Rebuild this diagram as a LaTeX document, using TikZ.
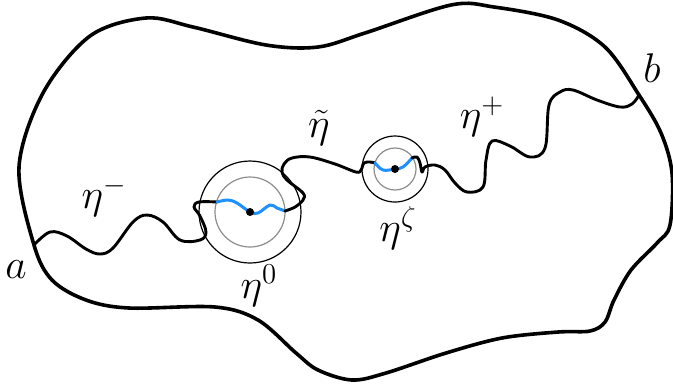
\documentclass[tikz,border=0pt]{standalone}
\usepackage{tikz}
\usepackage{amsmath,amssymb}
\definecolor{Arc}{HTML}{1E90FF}
\definecolor{Disc}{HTML}{8C8C8C}
\definecolor{Ink}{HTML}{000000}

\begin{document}
\begin{tikzpicture}[x=0.5pt,y=-0.5pt]
  \tikzset{lab/.style={font=\huge,Ink},
           wall/.style={Ink,line width=1.8pt,line join=round},
           path/.style={Ink,line width=1.45pt,line cap=round,line join=round},
           piece/.style={Arc,line width=1.5pt,line cap=round,line join=round}}
  \useasboundingbox (0,0) rectangle (673,388);
  \coordinate (a) at (34,245);
  \coordinate (b) at (639,95);
  \coordinate (z0) at (250,212);
  \coordinate (z1) at (395,169);
  % the two discs
  \draw[Ink,line width=0.6pt] (z0) circle[radius=25.5pt];
  \draw[Disc,line width=0.6pt] (z0) circle[radius=17.5pt];
  \draw[Ink,line width=0.6pt] (z1) circle[radius=16.5pt];
  \draw[Disc,line width=0.6pt] (z1) circle[radius=10.5pt];
  % domain
  \draw[wall] plot[smooth cycle,tension=0.55] coordinates {
    (a) (19,167) (43,93) (90,36) (146,18) (193,27) (266,45) (318,47)
    (365,33) (451,5) (494,7) (558,20) (605,47) (b) (661,133) (672,173)
    (670,225) (657,243) (631,270) (614,300) (605,322) (590,331) (558,332)
    (502,338) (446,353) (386,373) (352,380) (318,370) (296,353) (258,320)
    (215,307) (129,308) (86,300) (52,280)};
  % the curve
  \draw[path] plot[smooth,tension=0.6] coordinates {
    (a) (50,232) (67,236) (86,249) (100,254) (113,248) (133,222) (147,215)
    (163,222) (180,240) (200,240) (206,232) (200,216) (194,207) (199,202) (217,202)};
  \draw[piece] plot[smooth,tension=0.6] coordinates {
    (217,202) (228,200) (237,203) (z0) (258,213) (270,205) (277,208) (285,211)};
  \draw[path] plot[smooth,tension=0.6] coordinates {
    (285,211) (295,207) (303,200) (303,193) (287,180) (282,172) (284,164)
    (292,158) (310,157) (335,164) (356,172) (361,170) (364,163) (370,162) (375,163)};
  \draw[piece] plot[smooth,tension=0.6] coordinates {
    (375,163) (383,170) (z1) (403,167) (412,158)};
  \draw[path] plot[smooth,tension=0.6] coordinates {
    (412,158) (417,157) (420,163) (422,172) (425,167) (435,165) (445,170)
    (455,183) (467,192) (483,187) (486,160) (492,141) (510,146) (530,157)
    (545,148) (549,105) (560,92) (573,90) (597,100) (620,107) (632,104) (b)};
  \fill[Ink] (z0) circle[radius=2pt];
  \fill[Ink] (z1) circle[radius=2pt];
  % labels
  \node[lab] (la) at (16,270) {$a$};
  \node[lab] (lb) at (652,68) {$b$};
  \node[lab] (lminus) at (104,197) {$\eta^-$};
  \node[lab] (lzero) at (259,286) {$\eta^0$};
  \node[lab] (ltilde) at (319,128) {$\tilde\eta$};
  \node[lab] (lplus) at (482,117) {$\eta^+$};
  \node[lab] (lzeta) at (398,228) {$\eta^\zeta$};
\end{tikzpicture}
\end{document}
